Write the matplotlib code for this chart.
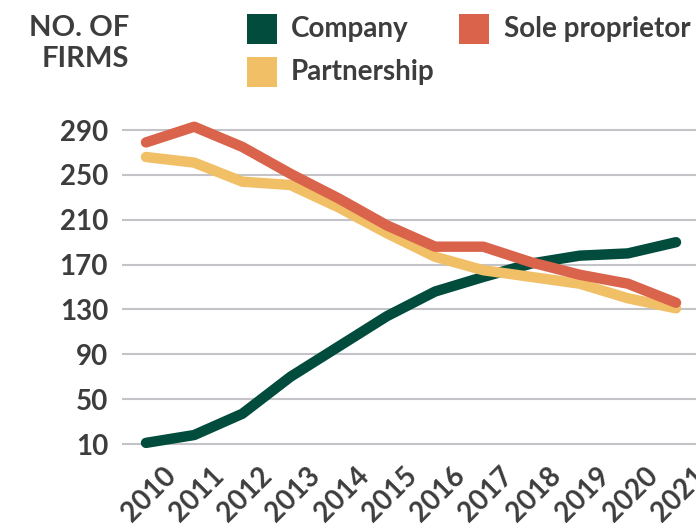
import matplotlib
matplotlib.use("Agg")
import matplotlib.pyplot as plt
from matplotlib.patches import Rectangle
from matplotlib.transforms import ScaledTranslation
from matplotlib import font_manager

years = [2010, 2011, 2012, 2013, 2014, 2015, 2016, 2017, 2018, 2019, 2020, 2021]
company = [11, 18, 37, 70, 97, 124, 146, 159, 171, 178, 180, 190]
partnership = [266, 261, 244, 241, 221, 198, 177, 165, 159, 153, 140, 131]
sole = [279, 293, 275, 251, 229, 205, 186, 186, 172, 161, 153, 136]
yticks = [10, 50, 90, 130, 170, 210, 250, 290]

C_COMP = "#024c3d"
C_PART = "#f1bf66"
C_SOLE = "#d9634b"
TXT = "#3d3d3d"
FONT = ["Lato", "DejaVu Sans"]
WEIGHT = "bold"

print(sorted({(f.name, f.weight) for f in font_manager.fontManager.ttflist if "Lato" in f.name}))

W, H = 696, 526
fig = plt.figure(figsize=(W / 100, H / 100), dpi=100)
plt.rcParams['font.family'] = FONT

def fx(px):
    return px / W

def fy(py):
    return 1 - py / H

ax = fig.add_axes([fx(122), fy(450), fx(696) - fx(122), fy(120) - fy(450)])
ax.set_xlim(2009.502, 2021.415)
ax.set_ylim(4.65, 299.0)

for s in ax.spines.values():
    s.set_visible(False)

ax.set_yticks(yticks)
ax.set_yticklabels([str(t) for t in yticks])
ax.yaxis.grid(True, color="#c4c4c8", linewidth=1.5)
ax.set_axisbelow(True)
ax.tick_params(axis="y", length=0, pad=10, labelsize=20, labelcolor=TXT)
for lab in ax.get_yticklabels():
    lab.set_fontweight(WEIGHT)

ax.set_xticks(years)
ax.set_xticklabels([str(y) for y in years], rotation=45, ha="center",
                   va="center", rotation_mode="anchor")
ax.tick_params(axis="x", length=0, pad=32, labelsize=20, labelcolor=TXT)
off = ScaledTranslation(3 / 100, 0, fig.dpi_scale_trans)
for lab in ax.get_xticklabels():
    lab.set_fontweight(WEIGHT)
    lab.set_transform(lab.get_transform() + off)

lw = 7.5
ax.plot(years, company, color=C_COMP, lw=lw, solid_capstyle="round",
        solid_joinstyle="round", zorder=3, clip_on=False)
ax.plot(years, partnership, color=C_PART, lw=lw, solid_capstyle="round",
        solid_joinstyle="round", zorder=4, clip_on=False)
ax.plot(years, sole, color=C_SOLE, lw=lw, solid_capstyle="round",
        solid_joinstyle="round", zorder=5, clip_on=False)

# Title
fig.text(fx(129), fy(15), "NO. OF\nFIRMS", ha="right", va="top",
         multialignment="right", fontsize=21, fontweight=WEIGHT,
         color=TXT, linespacing=1.25)

# Legend
legend_items = [
    ("Company", C_COMP, 247, 14, 291),
    ("Sole proprietor", C_SOLE, 459, 14, 504),
    ("Partnership", C_PART, 247, 57, 291),
]
for label, col, sx, sy, tx in legend_items:
    fig.add_artist(Rectangle((fx(sx), fy(sy + 30)), fx(30), 30 / H,
                             transform=fig.transFigure, facecolor=col,
                             edgecolor="none"))
    fig.text(fx(tx), fy(sy + 23), label, ha="left", va="baseline",
             fontsize=20, fontweight=WEIGHT, color=TXT)

fig.savefig("out.png", dpi=100)
